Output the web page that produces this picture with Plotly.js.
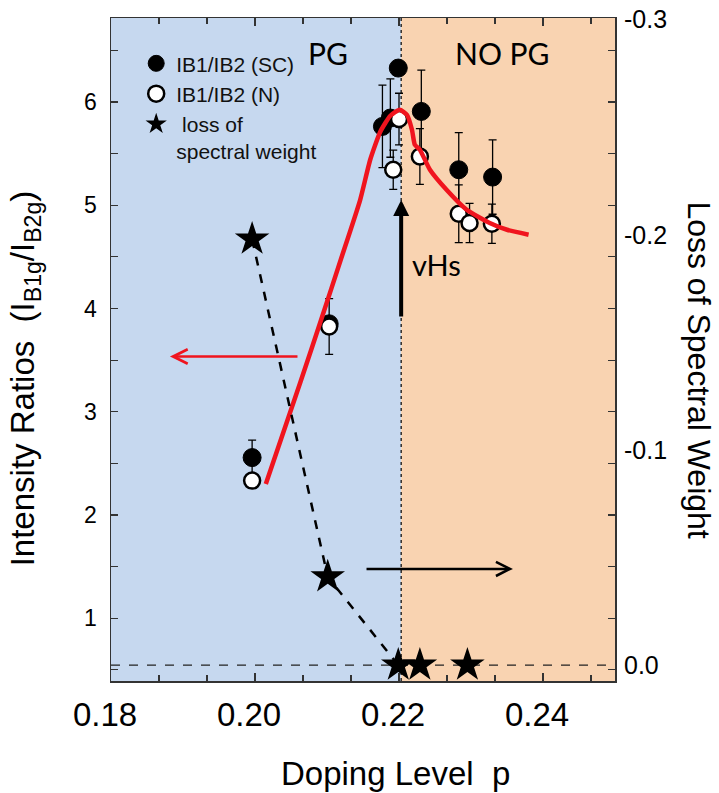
<!DOCTYPE html>
<html>
<head>
<meta charset="utf-8">
<script src="https://cdn.plot.ly/plotly-3.0.1.min.js"></script>
<style>html,body{margin:0;padding:0;background:#fff;}#chart{width:719px;height:793px;}</style>
</head>
<body>
<div id="chart"></div>
<script>
// ---- data ----
const scDoping   = [0.1996, 0.2103, 0.2177, 0.2188, 0.2199, 0.2231, 0.2283, 0.2330];
const scRatio    = [2.556, 3.852, 5.764, 5.845, 6.329, 5.909, 5.344, 5.273];
const scError    = [0.17, 0, 0.40, 0.38, 0, 0.40, 0.36, 0.36];

const nDoping    = [0.1996, 0.2103, 0.2192, 0.2200, 0.2229, 0.2283, 0.2298, 0.2329];
const nRatio     = [2.333, 3.826, 5.344, 5.835, 5.473, 4.918, 4.828, 4.821];
const nError     = [0, 0.27, 0.19, 0.25, 0.27, 0.28, 0.19, 0.19];

const starDoping = [0.1996, 0.2101, 0.2199, 0.2229, 0.2295];
const starLoss   = [-0.198, -0.041, 0.0, 0.0, 0.0];

const fitDoping  = [0.2015, 0.2063, 0.2093, 0.2120, 0.2146, 0.2160, 0.2174, 0.2188, 0.2201,
                    0.2211, 0.2218, 0.2222, 0.2229, 0.2243, 0.2266, 0.2294, 0.2326, 0.2350, 0.2380];
const fitRatio   = [2.301, 3.285, 3.915, 4.491, 5.051, 5.441, 5.712, 5.867, 5.925,
                    5.877, 5.732, 5.586, 5.538, 5.344, 5.150, 4.956, 4.828, 4.763, 4.715];

const xTickVals  = [0.18, 0.20, 0.22, 0.24];
const y2TickVals = [0.0, -0.1, -0.2, -0.3];
const vHs = 0.2203;

const FONT = "Liberation Sans, Arial, sans-serif";
const CAL = "Lato, Liberation Sans, sans-serif";

const traces = [
  { // dashed connector of first three stars
    x: starDoping.slice(0, 3), y: starLoss.slice(0, 3), yaxis: 'y2',
    mode: 'lines', line: {color: '#000', width: 2.5, dash: 'dash'},
    showlegend: false, hoverinfo: 'skip'
  },
  {
    x: scDoping, y: scRatio, name: 'IB1/IB2 (SC)', mode: 'markers', legendrank: 1,
    marker: {symbol: 'circle', size: 18, color: '#000', line: {color: '#000', width: 1}},
    error_y: {type: 'data', array: scError, visible: true, color: '#000', thickness: 1.3, width: 4}
  },
  {
    x: nDoping, y: nRatio, name: 'IB1/IB2 (N)', mode: 'markers', legendrank: 2,
    marker: {symbol: 'circle', size: 16, color: '#fff', line: {color: '#000', width: 2.5}},
    error_y: {type: 'data', array: nError, visible: true, color: '#000', thickness: 1.3, width: 4}
  },
  {
    x: starDoping, y: starLoss, yaxis: 'y2', name: ' loss of<br>spectral weight', mode: 'markers', legendrank: 3,
    marker: {symbol: 'star', size: 26, color: '#000'}
  },
  {
    x: fitDoping, y: fitRatio, mode: 'lines', showlegend: false,
    line: {color: '#f0141e', width: 4.5, shape: 'spline', smoothing: 0.5}
  }
];

const layout = {
  width: 719, height: 793,
  margin: {l: 111, r: 104, t: 18, b: 112},
  paper_bgcolor: '#fff', plot_bgcolor: '#fff',
  font: {family: FONT, color: '#000'},
  showlegend: true,
  legend: {x: 0.05, y: 0.962, xanchor: 'left', yanchor: 'top', bgcolor: 'rgba(0,0,0,0)',
           font: {family: FONT, size: 21, color: '#111'}, valign: 'top', tracegroupgap: 0},
  xaxis: {
    range: [0.18, 0.25], showgrid: false, zeroline: false,
    showline: true, linecolor: '#333', linewidth: 1.5, mirror: 'ticks',
    ticks: 'inside', ticklen: 8, tickcolor: '#333', tickwidth: 1.2,
    tickvals: xTickVals, tickformat: '.2f', ticklabelshift: -6, ticklabelstandoff: 4,
    tickfont: {family: FONT, size: 33, color: '#000'},
    minor: {tick0: 0.18, dtick: 0.02 / 3, ticks: 'inside', ticklen: 6, tickcolor: '#333', tickwidth: 1.2}
  },
  yaxis: {
    range: [0.392, 6.814], showgrid: false, zeroline: false,
    showline: true, linecolor: '#333', linewidth: 1.5, mirror: 'ticks',
    ticks: 'inside', ticklen: 7, tickcolor: '#333', tickwidth: 1.2,
    dtick: 1, tick0: 0, ticklabelstandoff: 8,
    tickfont: {family: FONT, size: 23, color: '#000'},
    minor: {dtick: 0.5, tick0: 0, ticks: 'inside', ticklen: 7, tickcolor: '#333', tickwidth: 1.2}
  },
  yaxis2: {
    overlaying: 'y', side: 'right', anchor: 'x',
    range: [0.0074, -0.3008], showgrid: false, zeroline: false, showline: false,
    ticks: '', tickvals: y2TickVals, ticktext: y2TickVals.map(v => v.toFixed(1)),
    ticklabelstandoff: 8,
    tickfont: {family: FONT, size: 25, color: '#000'}
  },
  shapes: [
    {type: 'rect', xref: 'x', yref: 'paper', x0: 0.18, x1: vHs, y0: 0, y1: 1,
     fillcolor: '#c6d8ef', line: {width: 0}, layer: 'below'},
    {type: 'rect', xref: 'x', yref: 'paper', x0: vHs, x1: 0.25, y0: 0, y1: 1,
     fillcolor: '#f9d3b1', line: {width: 0}, layer: 'below'},
    {type: 'line', xref: 'x', yref: 'paper', x0: vHs, x1: vHs, y0: 0, y1: 1,
     line: {color: '#111', width: 1.3, dash: 'dot'}, layer: 'below'},
    {type: 'line', xref: 'x', yref: 'y2', x0: 0.18, x1: 0.25, y0: 0, y1: 0,
     line: {color: '#222', width: 1.2, dash: 'dash'}, layer: 'below'}
  ],
  annotations: [
    {text: 'Intensity Ratios  (I<sub>B1g</sub>/I<sub>B2g</sub>)', textangle: -90,
     xref: 'paper', yref: 'paper', x: -0.17, y: 0.457, xanchor: 'center', yanchor: 'middle',
     showarrow: false, font: {family: FONT, size: 33, color: '#000'}},
    {text: 'Loss of Spectral Weight', textangle: 90,
     xref: 'paper', yref: 'paper', x: 1.166, y: 0.469, xanchor: 'center', yanchor: 'middle',
     showarrow: false, font: {family: FONT, size: 32, color: '#000'}},
    {text: 'Doping Level  p',
     xref: 'paper', yref: 'paper', x: 0.5635, y: -0.1395, xanchor: 'center', yanchor: 'middle',
     showarrow: false, font: {family: FONT, size: 33, color: '#000'}},
    {text: 'PG', xref: 'paper', yref: 'paper', x: 0.4306, y: 0.9475, xanchor: 'center', yanchor: 'middle',
     showarrow: false, font: {family: CAL, size: 30, color: '#000'}},
    {text: 'NO PG', xref: 'paper', yref: 'paper', x: 0.7768, y: 0.9475, xanchor: 'center', yanchor: 'middle',
     showarrow: false, font: {family: CAL, size: 30, color: '#000'}},
    {text: 'vHs', xref: 'paper', yref: 'paper', x: 0.6468, y: 0.6276, xanchor: 'center', yanchor: 'middle',
     showarrow: false, font: {family: CAL, size: 29, color: '#000'}},
    // arrows
    {text: '', xref: 'x', yref: 'y', axref: 'x', ayref: 'y',
     x: 0.18819, y: 3.535, ax: 0.20611, ay: 3.535,
     showarrow: true, arrowhead: 5, arrowsize: 1.1, arrowwidth: 2.6, arrowcolor: '#f0141e'},
    {text: '', xref: 'x', yref: 'y', axref: 'x', ayref: 'y',
     x: 0.23583, y: 1.478, ax: 0.21528, ay: 1.478,
     showarrow: true, arrowhead: 5, arrowsize: 1.1, arrowwidth: 2.5, arrowcolor: '#000'},
    {text: '', xref: 'x', yref: 'y', axref: 'x', ayref: 'y',
     x: vHs, y: 5.051, ax: vHs, ay: 3.908,
     showarrow: true, arrowhead: 2, arrowsize: 0.8, arrowwidth: 4, arrowcolor: '#000'}
  ]
};

Plotly.newPlot('chart', traces, layout, {displayModeBar: false, staticPlot: true});
</script>
</body>
</html>
